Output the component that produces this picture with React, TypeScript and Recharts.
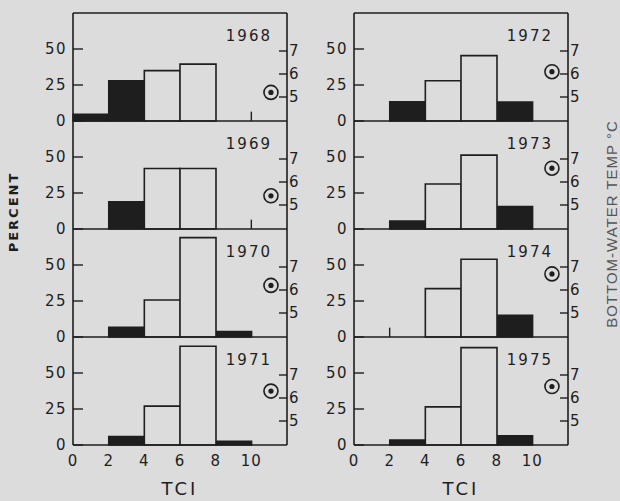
import { Bar, ComposedChart, ReferenceLine, Scatter, XAxis, YAxis } from "recharts";

// TCI classes (2-unit bins) and axis ticks
const BINS = ["0-2", "2-4", "4-6", "6-8", "8-10", "10-12"];
const TCI_TICKS = [0, 2, 4, 6, 8, 10];
const PCT_TICKS = [0, 25, 50];
const TEMP_TICKS = [5, 6, 7];

const YEARS = [1968, 1969, 1970, 1971, 1972, 1973, 1974, 1975];

// percent per bin, dark bars
const SOLID_PCT = [
  [4.7, 28, 0, 0, 0, 0],
  [0, 19, 0, 0, 0, 0],
  [0, 6.8, 0, 0, 3.8, 0],
  [0, 5.9, 0, 0, 2.6, 0],
  [0, 13.4, 0, 0, 13.2, 0],
  [0, 5.6, 0, 0, 15.6, 0],
  [0, 0, 0, 0, 15.2, 0],
  [0, 3.5, 0, 0, 6.5, 0],
];

// percent per bin, open bars
const OPEN_PCT = [
  [0, 0, 35, 39.5, 0, 0],
  [0, 0, 42, 42, 0, 0],
  [0, 0, 25.7, 69, 0, 0],
  [0, 0, 27, 68.6, 0, 0],
  [0, 0, 28, 45.4, 0, 0],
  [0, 0, 31.2, 51.3, 0, 0],
  [0, 0, 33.6, 54, 0, 0],
  [0, 0, 26.5, 67.6, 0, 0],
];

// bottom-water temperature (°C), plotted at TCI 11.1
const TEMP_C = [5.2, 5.4, 6.2, 6.3, 6.1, 6.6, 6.7, 6.5];
const TEMP_TCI = 11.1;

// trace marks (very small percent) on the baseline
const TRACE_TCI = [[10], [10], [], [], [], [], [2], []];
const TRACE_PCT = 6.5;

const BG = "#dcdcdc";
const INK = "#1e1e1e";
const FONT = "'DejaVu Sans', sans-serif";

const PLOT_W = 214;
const PLOT_H = 108;
const TOP = 13;
const ML = 33;
const AXL = 40;
const AXR = 22;
const MR = 4;
const MT = 10;
const MB = 10;
const XH = 55;
const CHART_W = ML + AXL + PLOT_W + AXR + MR;
const COL_LEFT = [0, 281];

const tickStyle = { fill: INK, fontSize: 15, fontFamily: FONT, letterSpacing: 1.5 };

function Marker(props: any) {
  const { cx, cy } = props;
  return (
    <g>
      <circle cx={cx} cy={cy} r={7} fill="none" stroke={INK} strokeWidth={1.6} />
      <circle cx={cx} cy={cy} r={2.6} fill={INK} />
    </g>
  );
}

function Panel({ i }: { i: number }) {
  const col = Math.floor(i / 4);
  const row = i % 4;
  const bottom = row === 3;
  const data = BINS.map((bin, k) => ({ bin, solid: SOLID_PCT[i][k], open: OPEN_PCT[i][k] }));
  const xh = bottom ? XH : 1;
  const height = MT + PLOT_H + xh + MB;

  return (
    <div style={{ position: "absolute", left: COL_LEFT[col], top: TOP + row * PLOT_H - MT }}>
      <ComposedChart
        width={CHART_W}
        height={height}
        data={data}
        margin={{ top: MT, right: MR, bottom: MB, left: ML }}
        barCategoryGap={0}
        barGap={0}
      >
        <XAxis
          xAxisId="num"
          dataKey="x"
          type="number"
          domain={[0, 12]}
          ticks={TCI_TICKS}
          interval={0}
          allowDataOverflow
          axisLine={{ stroke: INK, strokeWidth: 1.6 }}
          tickLine={false}
          tickSize={0}
          tickMargin={10}
          tick={bottom ? { ...tickStyle, letterSpacing: 1 } : false}
          height={xh}
          label={
            bottom
              ? { value: "TCI", position: "insideBottom", offset: 5, fill: INK, fontSize: 18, fontFamily: FONT, letterSpacing: 3 }
              : undefined
          }
        />
        <XAxis xAxisId="cat" dataKey="bin" type="category" orientation="top" height={0} hide />
        <YAxis
          yAxisId="pct"
          orientation="left"
          domain={[0, 75]}
          ticks={PCT_TICKS}
          interval={0}
          width={AXL}
          axisLine={{ stroke: INK, strokeWidth: 1.6 }}
          tickLine={{ stroke: INK, strokeWidth: 1.4 }}
          tickSize={-10}
          tickMargin={16}
          tick={tickStyle}
        />
        <YAxis
          yAxisId="temp"
          orientation="right"
          domain={[3.957, 8.652]}
          ticks={TEMP_TICKS}
          interval={0}
          allowDataOverflow
          width={AXR}
          axisLine={{ stroke: INK, strokeWidth: 1.6 }}
          tickLine={{ stroke: INK, strokeWidth: 1.4 }}
          tickSize={-8}
          tickMargin={10}
          tick={tickStyle}
        />
        {row === 0 && (
          <ReferenceLine xAxisId="num" yAxisId="pct" y={75} stroke={INK} strokeWidth={1.6} />
        )}
        <Bar
          xAxisId="cat"
          yAxisId="pct"
          dataKey="solid"
          stackId="h"
          fill={INK}
          stroke={INK}
          strokeWidth={1.4}
          isAnimationActive={false}
        />
        <Bar
          xAxisId="cat"
          yAxisId="pct"
          dataKey="open"
          stackId="h"
          fill={BG}
          stroke={INK}
          strokeWidth={1.6}
          isAnimationActive={false}
        />
        {TRACE_TCI[i].map((t) => (
          <ReferenceLine
            key={t}
            xAxisId="num"
            yAxisId="pct"
            segment={[
              { x: t, y: 0 },
              { x: t, y: TRACE_PCT },
            ]}
            stroke={INK}
            strokeWidth={1.4}
          />
        ))}
        <Scatter
          xAxisId="num"
          yAxisId="temp"
          data={[{ x: TEMP_TCI, t: TEMP_C[i] }]}
          dataKey="t"
          shape={Marker}
          isAnimationActive={false}
        />
        <text
          x={ML + AXL + PLOT_W - 15}
          y={MT + 28}
          textAnchor="end"
          fill={INK}
          fontSize={15}
          fontFamily={FONT}
          letterSpacing={2}
        >
          {YEARS[i]}
        </text>
      </ComposedChart>
    </div>
  );
}

export default function App() {
  return (
    <div
      style={{
        position: "absolute",
        left: 0,
        top: 0,
        width: 620,
        height: 501,
        background: BG,
        overflow: "hidden",
        fontFamily: FONT,
        color: INK,
      }}
    >
      {YEARS.map((y, i) => (
        <Panel key={y} i={i} />
      ))}
      <div
        style={{
          position: "absolute",
          left: 13,
          top: 212,
          transform: "translate(-50%, -50%) rotate(-90deg)",
          fontSize: 13,
          fontWeight: "bold",
          letterSpacing: 2,
          whiteSpace: "nowrap",
        }}
      >
        PERCENT
      </div>
      <div
        style={{
          position: "absolute",
          left: 611,
          top: 224,
          transform: "translate(-50%, -50%) rotate(-90deg)",
          fontSize: 15,
          fontFamily: "'Liberation Sans', sans-serif",
          letterSpacing: 1,
          color: "#555",
          whiteSpace: "nowrap",
        }}
      >
        BOTTOM-WATER TEMP °C
      </div>
    </div>
  );
}
